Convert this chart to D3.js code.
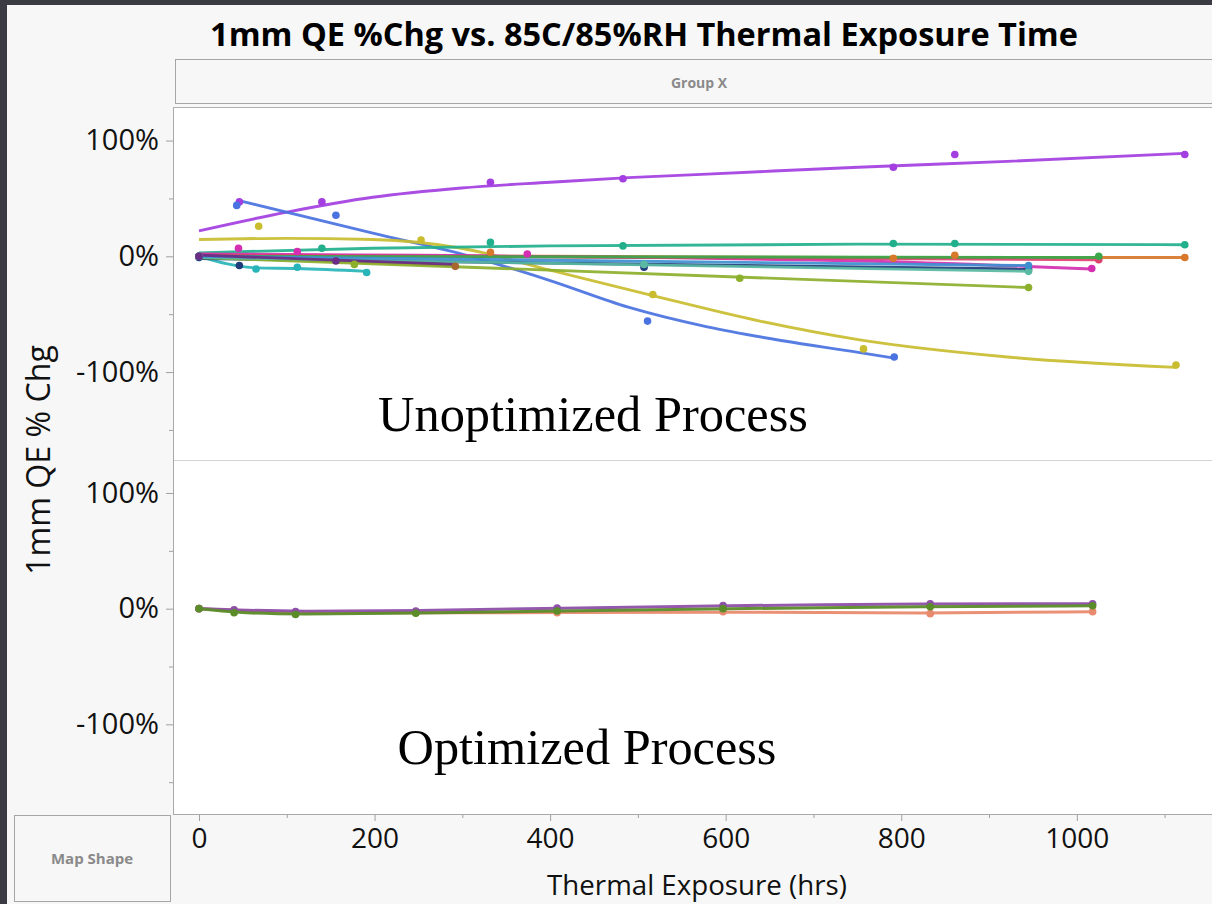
<!DOCTYPE html>
<html><head><meta charset="utf-8">
<script src="https://cdn.jsdelivr.net/npm/d3@7"></script>
<style>html,body{margin:0;padding:0;background:#3b3b43;} svg{display:block}</style>
</head><body><svg id="c" width="1212" height="904"></svg>
<script>
// ---------------- DATA ----------------
const chartTitle = "1mm QE %Chg vs. 85C/85%RH Thermal Exposure Time";
const groupLabel = "Group X";
const mapShapeLabel = "Map Shape";
const xTitle = "Thermal Exposure (hrs)";
const yTitle = "1mm QE % Chg";
const panelLabels = ["Unoptimized Process", "Optimized Process"];

const xTickValues = [0, 200, 400, 600, 800, 1000];
const xTickLabels = ["0", "200", "400", "600", "800", "1000"];
const xMinorTicks = [100, 300, 500, 700, 900, 1100];
const yTickValues = [100, 0, -100];
const yTickLabels = ["100%", "0%", "-100%"];
const yMinorTicks = [50, -50, -150];

// Top panel (Unoptimized) — one entry per unit
const topColors = ["#a33ee0", "#4a72e0", "#c9bd2f", "#22b08c", "#d8782a", "#a8662e", "#28b4b8",
                   "#1f3d7a", "#8caf2c", "#d42fb0", "#e0406e", "#3aa84a", "#59b9a2", "#3d8fd0", "#6b2c86"];
const topPointHrs = [
  [46, 140, 332, 483, 791, 861, 1123],
  [43, 156, 511, 792],
  [68, 253, 517, 757, 1113],
  [0, 140, 332, 483, 791, 861, 1123],
  [0, 332, 791, 861, 1123],
  [0, 292],
  [0, 65, 112, 191],
  [0, 46, 507, 945],
  [0, 177, 616, 945],
  [45, 112, 374, 1017],
  [0, 1025],
  [0, 1025],
  [0, 507, 945],
  [0, 945],
  [0, 156]
];
const topPointVals = [
  [47, 47, 64, 67, 77, 88, 88],
  [44, 35.5, -56, -87],
  [26, 14, -33, -80, -94],
  [0, 7, 12, 9, 11, 11, 10],
  [0, 3.5, -1.7, 0.9, -1],
  [0, -8.7],
  [0, -11, -9.5, -14],
  [-1, -8, -9.5, -11.5],
  [0, -7, -19, -27],
  [7, 4, 2, -10.5],
  [0, -3],
  [0, 0],
  [0, -7, -13],
  [0, -8],
  [0, -4]
];
const topFitHrs = [
  [0, 99, 198, 299, 400, 489, 579, 751, 921, 1123],
  [44, 198, 309, 400, 489, 579, 665, 751, 792],
  [0, 99, 198, 299, 400, 517, 639, 751, 921, 1113],
  [0, 198, 400, 751, 1123],
  [0, 400, 751, 1123],
  [0, 292],
  [0, 65, 112, 191],
  [0, 945],
  [0, 945],
  [0, 751, 1017],
  [0, 1025],
  [0, 1025],
  [0, 945],
  [0, 945],
  [0, 292]
];
const topFitVals = [
  [22, 38, 51, 59, 64, 68, 71, 77, 82, 89],
  [48.5, 20, 0, -21, -44, -61, -73, -83, -88],
  [14.5, 15.5, 14.5, 7, -12, -34, -56, -72, -87, -96],
  [3, 7, 9, 10.5, 10],
  [1, 0, -1, -1],
  [0, -8],
  [0, -10, -10.5, -13],
  [-2, -11],
  [-1, -27],
  [2, -4, -11],
  [1, -3],
  [0, -1],
  [-1, -13],
  [0, -8],
  [1, -7]
];

// Bottom panel (Optimized)
const botColors = ["#e88a6e", "#8e4fa8", "#5b8c2a"];
const botHrs = [0, 40, 110, 247, 408, 597, 833, 1018];
const botVals = [
  [0, -1.7, -4, -3.5, -3.5, -2.6, -4.3, -2.6],
  [0, -1, -2.5, -2, 0.5, 2.6, 4.3, 4.3],
  [0, -3.5, -5, -4, -2, 0, 1.7, 2.5]
];

// ---------------- LAYOUT ----------------
const svg = d3.select("#c");
const FONT = "'Open Sans', 'Noto Sans', sans-serif";
const plotL = 173, plotR = 1212, plotT = 107, plotMid = 460, plotB = 814;

svg.append("rect").attr("x", 7).attr("y", 5).attr("width", 1205).attr("height", 899).attr("fill", "#f7f7f7");

const x = d3.scaleLinear().domain([-29.6, 1154]).range([plotL, plotR]);
const yTop = d3.scaleLinear().domain([-176, 129]).range([plotMid, plotT]);
const yBot = d3.scaleLinear().domain([-177.5, 128.5]).range([plotB, plotMid]);

function fitWidth(sel, target) {
  const w = sel.node().getComputedTextLength();
  const fs = parseFloat(sel.attr("font-size"));
  sel.attr("font-size", (fs * target / w).toFixed(2));
}

// Title
const t = svg.append("text").attr("x", 644).attr("y", 46).attr("text-anchor", "middle")
  .attr("font-family", FONT).attr("font-weight", "bold").attr("font-size", 28).attr("fill", "#000").text(chartTitle);
fitWidth(t, 868);

// Group X box
svg.append("rect").attr("x", 175.5).attr("y", 59.5).attr("width", 1060).attr("height", 44)
  .attr("fill", "#f7f7f7").attr("stroke", "#a6a6a6");
svg.append("text").attr("x", 699).attr("y", 88).attr("text-anchor", "middle").attr("font-family", FONT)
  .attr("font-weight", "bold").attr("font-size", 14).attr("fill", "#8a8a8a").text(groupLabel);

// Map shape box
svg.append("rect").attr("x", 14.5).attr("y", 815.5).attr("width", 156).attr("height", 86)
  .attr("fill", "#f7f7f7").attr("stroke", "#a6a6a6");
svg.append("text").attr("x", 92).attr("y", 864).attr("text-anchor", "middle").attr("font-family", FONT)
  .attr("font-weight", "bold").attr("font-size", 15).attr("fill", "#8a8a8a").text(mapShapeLabel);

// Plot background
svg.append("rect").attr("x", plotL).attr("y", plotT).attr("width", plotR - plotL + 5).attr("height", plotB - plotT)
  .attr("fill", "#ffffff");
svg.append("line").attr("x1", plotL).attr("x2", plotR).attr("y1", plotMid + 0.5).attr("y2", plotMid + 0.5)
  .attr("stroke", "#d4d4d4");

// Y axes
function yAxis(scale) {
  const g = svg.append("g").attr("transform", `translate(${plotL},0)`);
  g.call(d3.axisLeft(scale).tickValues(yTickValues).tickSize(7)
      .tickFormat((d, i) => yTickLabels[i]))
    .call(s => s.select(".domain").remove());
  g.selectAll(".tick line").attr("stroke", "#a0a0a0");
  g.selectAll(".tick text").attr("font-family", FONT).attr("font-size", 29).attr("fill", "#111").attr("x", -14);
  const m = svg.append("g").attr("transform", `translate(${plotL},0)`);
  m.call(d3.axisLeft(scale).tickValues(yMinorTicks).tickSize(4).tickFormat(""))
    .call(s => s.select(".domain").remove());
  m.selectAll(".tick line").attr("stroke", "#a0a0a0");
}
yAxis(yTop);
yAxis(yBot);

// X axis
const xg = svg.append("g").attr("transform", `translate(0,${plotB})`);
xg.call(d3.axisBottom(x).tickValues(xTickValues).tickSize(7).tickFormat((d, i) => xTickLabels[i]))
  .call(s => s.select(".domain").remove());
xg.selectAll(".tick line").attr("stroke", "#a0a0a0");
xg.selectAll(".tick text").attr("font-family", FONT).attr("font-size", 28).attr("fill", "#111").attr("y", 14);
const xm = svg.append("g").attr("transform", `translate(0,${plotB})`);
xm.call(d3.axisBottom(x).tickValues(xMinorTicks).tickSize(4).tickFormat(""))
  .call(s => s.select(".domain").remove());
xm.selectAll(".tick line").attr("stroke", "#a0a0a0");

// Frame lines
svg.append("line").attr("x1", plotL + 0.5).attr("x2", plotL + 0.5).attr("y1", plotT).attr("y2", plotB).attr("stroke", "#a8a8a8");
svg.append("line").attr("x1", plotL).attr("x2", plotR).attr("y1", plotT + 0.5).attr("y2", plotT + 0.5).attr("stroke", "#b0b0b0");
svg.append("line").attr("x1", plotL).attr("x2", plotR).attr("y1", plotB + 0.5).attr("y2", plotB + 0.5).attr("stroke", "#a8a8a8");

// Axis titles
const xt = svg.append("text").attr("x", 697).attr("y", 895).attr("text-anchor", "middle").attr("font-family", FONT)
  .attr("font-size", 26).attr("fill", "#111").text(xTitle);
fitWidth(xt, 300);
const yt = svg.append("text").attr("transform", "translate(50,460) rotate(-90)").attr("text-anchor", "middle")
  .attr("font-family", FONT).attr("font-size", 26).attr("fill", "#111").text(yTitle);
fitWidth(yt, 230);

// Clip
svg.append("clipPath").attr("id", "clipTop").append("rect").attr("x", plotL + 1).attr("y", plotT + 1).attr("width", plotR - plotL).attr("height", plotMid - plotT - 1);
svg.append("clipPath").attr("id", "clipBot").append("rect").attr("x", plotL + 1).attr("y", plotMid + 1).attr("width", plotR - plotL).attr("height", plotB - plotMid - 1);

// Top panel marks
const gTop = svg.append("g").attr("clip-path", "url(#clipTop)");
const lineTop = d3.line().x(d => x(d[0])).y(d => yTop(d[1])).curve(d3.curveMonotoneX);
topColors.forEach((c, i) => {
  const fit = topFitHrs[i].map((h, j) => [h, topFitVals[i][j]]);
  gTop.append("path").attr("d", lineTop(fit)).attr("fill", "none").attr("stroke", c)
    .attr("stroke-width", 2.9).attr("stroke-opacity", 0.92);
});
topColors.forEach((c, i) => {
  topPointHrs[i].forEach((h, j) => {
    gTop.append("circle").attr("cx", x(h)).attr("cy", yTop(topPointVals[i][j])).attr("r", 3.8).attr("fill", c);
  });
});

// Bottom panel marks
const gBot = svg.append("g").attr("clip-path", "url(#clipBot)");
const lineBot = d3.line().x(d => x(d[0])).y(d => yBot(d[1])).curve(d3.curveBasis);
botColors.forEach((c, i) => {
  const pts = botHrs.map((h, j) => [h, botVals[i][j]]);
  gBot.append("path").attr("d", lineBot(pts)).attr("fill", "none").attr("stroke", c)
    .attr("stroke-width", 3).attr("stroke-opacity", 0.95);
  pts.forEach(p => gBot.append("circle").attr("cx", x(p[0])).attr("cy", yBot(p[1])).attr("r", 3.8).attr("fill", c));
});

// Panel annotations
const a1 = svg.append("text").attr("x", 593).attr("y", 431).attr("text-anchor", "middle")
  .attr("font-family", "'Liberation Serif', 'Times New Roman', serif").attr("font-size", 50).attr("fill", "#000").text(panelLabels[0]);
fitWidth(a1, 430);
const a2 = svg.append("text").attr("x", 587).attr("y", 764).attr("text-anchor", "middle")
  .attr("font-family", "'Liberation Serif', 'Times New Roman', serif").attr("font-size", 50).attr("fill", "#000").text(panelLabels[1]);
fitWidth(a2, 379);
</script></body></html>
